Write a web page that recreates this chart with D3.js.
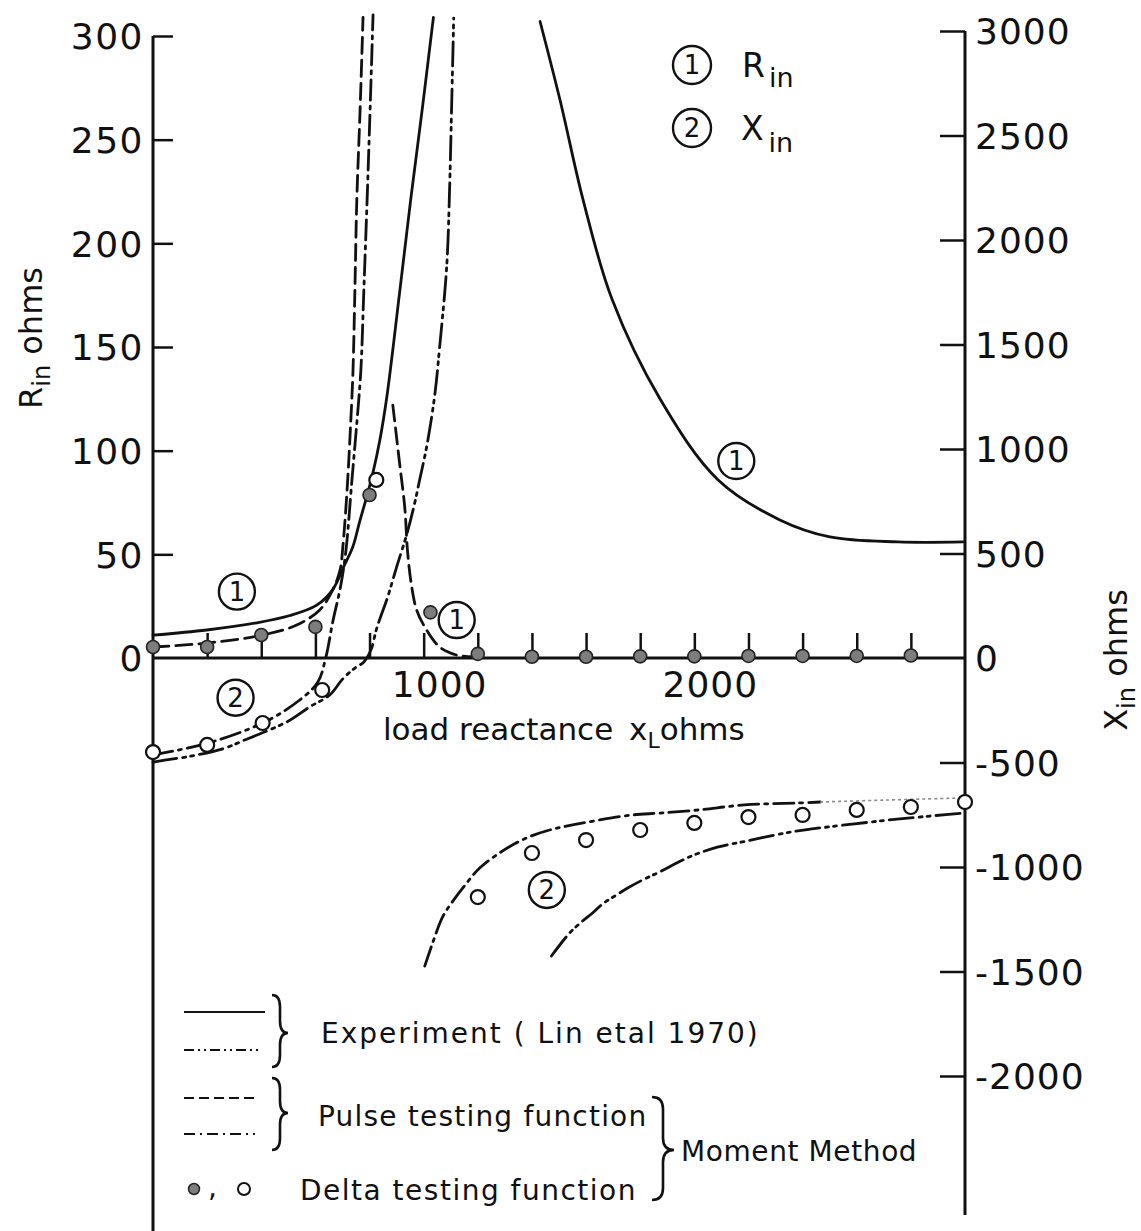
<!DOCTYPE html>
<html>
<head>
<meta charset="utf-8">
<title>Input impedance versus load reactance</title>
<script src="https://cdn.jsdelivr.net/npm/d3@7/dist/d3.min.js"></script>
<style>
  html, body { margin: 0; padding: 0; background: #fff; }
  svg { display: block; }
  text { font-family: "DejaVu Sans", Verdana, sans-serif; fill: #111; }
</style>
</head>
<body>
<svg id="chart" width="1141" height="1231"></svg>
<script>
// ---- load reactance x_L (ohms) against input resistance R_in and reactance X_in (ohms) ----

// Experiment (Lin et al 1970): R_in solid, X_in dash-dot-dot
const expRBelow = [[0,11],[199,13.5],[384,17],[506,20.5],[605,25.5],[664,33],[708,45],[738,53.5],[764,66],[790,78],[812,89],[838,105],[864,126],[910,175],[952,221],[995,265],[1036,309]];
const expRAbove = [[1430,307],[1504,269],[1589,221],[1696,173],[1873,125],[2087,86],[2316,66.6],[2501,58.4],[2752,56],[2992,56]];
const expXBelow = [[0,-498],[162,-464],[266,-431],[339,-392],[494,-306],[579,-234],[653,-177],[701,-100],[746,-48],[779,-19],[805,38],[827,144],[867,292],[900,435],[937,589],[967,742],[985,852],[1011,1010],[1041,1258],[1059,1488],[1085,1871],[1096,2254],[1103,2622],[1111,3062]];
const expXAbove = [[1472,-1426],[1539,-1316],[1583,-1263],[1624,-1220],[1661,-1177],[1712,-1134],[1760,-1096],[1815,-1058],[1871,-1024],[1985,-950],[2085,-905],[2185,-878],[2325,-840],[2410,-822],[2509,-806],[2664,-783],[2749,-771],[2889,-754],[2995,-742]];

// Moment method, pulse testing function: R_in dashed, X_in dash-dot
const pulseRBelow = [[0,5.3],[199,7.2],[406,11.1],[531,15.9],[616,23.2],[664,32.8],[691,42.4],[702,54.5],[717,81],[731,115],[739,139],[746,178],[753,221],[765,264],[776,309]];
const pulseRAbove = [[886,122],[911,94],[930,72.8],[941,50.6],[956,34.2],[974,23.2],[1004,15],[1059,5.3],[1122,1.4],[1181,0.5]];
const pulseXBelow = [[0,-464],[203,-407],[413,-306],[542,-201],[609,-115],[638,0],[664,172],[694,349],[713,517],[735,852],[754,1139],[768,1378],[779,1761],[791,2191],[802,2622],[813,3077]];
const pulseXAbove = [[1004,-1474],[1033,-1364],[1070,-1239],[1103,-1172],[1151,-1090],[1207,-1005],[1292,-923],[1380,-861],[1465,-823],[1550,-799],[1649,-775],[1771,-751],[1871,-742],[2015,-727],[2185,-703],[2380,-694],[2465,-689]];
const pulseXTail = [[2465,-689],[2700,-680],[2974,-670]];

// Moment method, delta testing function: R_in filled dots, X_in open dots
const deltaRLoad = [0,200,400,600,800,1025,1200,1400,1600,1800,2000,2200,2400,2600,2800];
const deltaR     = [5.3,5.3,11.1,15,78.6,22,2,0.6,0.6,0.8,0.8,1,1,1,1.2];
const deltaXLoad = [0,200,405,625,825,1200,1400,1600,1800,2000,2200,2400,2600,2800,3000];
const deltaX     = [-450,-416,-311,-153,852,-1144,-933,-871,-823,-789,-761,-751,-727,-713,-689];

// Axis ticks
const rTicks = [0,50,100,150,200,250,300];
const xInTicks = [3000,2500,2000,1500,1000,500,0,-500,-1000,-1500,-2000];
const loadTicks = [200,400,600,800,1000,1200,1400,1600,1800,2000,2200,2400,2600,2800];
const loadLabels = [1000,2000];

// ---- drawing ----
const W = 1141, H = 1231;
const ink = "#111";
const svg = d3.select("#chart");

const x  = d3.scaleLinear().domain([0, 3000]).range([153, 965]);
const yR = d3.scaleLinear().domain([0, 300]).range([658, 36]);
const yX = d3.scaleLinear().domain([-2000, 3000]).range([1076, 31]);

const DASH = {
  solid: null,
  dashDotDot: "24,6,3,5,3,6",
  dashed: "16,7",
  dashDot: "20,6,3,6"
};

// left axis (R_in)
const gL = svg.append("g")
  .attr("transform", `translate(${x(0)},0)`)
  .call(d3.axisLeft(yR).tickValues(rTicks).tickSizeInner(-20).tickSizeOuter(0).tickPadding(9));
gL.select(".domain").remove();
gL.selectAll(".tick line").attr("stroke", ink).attr("stroke-width", 2.5)
  .filter(d => d === 0).remove();
gL.selectAll(".tick text").attr("font-size", 36).attr("letter-spacing", 1.5)
  .attr("dy", "0.36em");
svg.append("line").attr("x1", x(0)).attr("x2", x(0)).attr("y1", yR(300)).attr("y2", H)
  .attr("stroke", ink).attr("stroke-width", 3);

// right axis (X_in)
const gRt = svg.append("g")
  .attr("transform", `translate(${x(3000)},0)`)
  .call(d3.axisRight(yX).tickValues(xInTicks).tickSizeInner(-25).tickSizeOuter(0).tickPadding(10)
    .tickFormat(d => d < 0 ? "-" + (-d) : String(d)));
gRt.select(".domain").remove();
gRt.selectAll(".tick line").attr("stroke", ink).attr("stroke-width", 2.5)
  .filter(d => d === 0).remove();
gRt.selectAll(".tick text").attr("font-size", 36).attr("letter-spacing", 1)
  .attr("dy", "0.36em");
svg.append("line").attr("x1", x(3000)).attr("x2", x(3000)).attr("y1", yX(3000)).attr("y2", 1215)
  .attr("stroke", ink).attr("stroke-width", 3);

// load-reactance axis along R_in = 0, ticks pointing up
const gB = svg.append("g")
  .attr("transform", `translate(0,${yR(0)})`)
  .call(d3.axisBottom(x).tickValues(loadTicks).tickSizeInner(-25).tickSizeOuter(0).tickFormat(""));
gB.select(".domain").remove();
gB.selectAll(".tick line").attr("stroke", ink).attr("stroke-width", 2.5);
svg.append("line").attr("x1", x(0)).attr("x2", x(3000)).attr("y1", yR(0)).attr("y2", yR(0))
  .attr("stroke", ink).attr("stroke-width", 3);
svg.selectAll("text.loadlab").data(loadLabels).join("text")
  .attr("class", "loadlab")
  .attr("x", d => x(d) + 16).attr("y", yR(0) + 39)
  .attr("text-anchor", "middle").attr("font-size", 36).attr("letter-spacing", 1)
  .text(d => d);

// axis titles
const tx = svg.append("text").attr("x", 383).attr("y", 740).attr("font-size", 31);
tx.append("tspan").text("load reactance ");
tx.append("tspan").attr("dx", 6).text("x");
tx.append("tspan").attr("font-size", 22).attr("dy", 8).text("L");
tx.append("tspan").attr("dy", -8).text("ohms");

const tl = svg.append("text").attr("transform", "translate(42,338) rotate(-90)")
  .attr("text-anchor", "middle").attr("font-size", 32);
tl.append("tspan").text("R");
tl.append("tspan").attr("font-size", 24).attr("dy", 8).text("in");
tl.append("tspan").attr("dy", -8).text(" ohms");

const tr = svg.append("text").attr("transform", "translate(1127,660) rotate(-90)")
  .attr("text-anchor", "middle").attr("font-size", 32);
tr.append("tspan").text("X");
tr.append("tspan").attr("font-size", 24).attr("dy", 8).text("in");
tr.append("tspan").attr("dy", -8).text(" ohms");

// curves
const lineOn = yScale => d3.line()
  .x(d => x(d[0])).y(d => yScale(d[1]))
  .curve(d3.curveCatmullRom.alpha(0.5));

const curves = [
  { data: expRBelow,   y: yR, dash: DASH.solid },
  { data: expRAbove,   y: yR, dash: DASH.solid },
  { data: expXBelow,   y: yX, dash: DASH.dashDotDot },
  { data: expXAbove,   y: yX, dash: DASH.dashDotDot },
  { data: pulseRBelow, y: yR, dash: DASH.dashed },
  { data: pulseRAbove, y: yR, dash: DASH.dashed },
  { data: pulseXBelow, y: yX, dash: DASH.dashDot },
  { data: pulseXAbove, y: yX, dash: DASH.dashDot }
];
svg.append("g").selectAll("path").data(curves).join("path")
  .attr("d", c => lineOn(c.y)(c.data))
  .attr("fill", "none").attr("stroke", ink).attr("stroke-width", 2.8)
  .attr("stroke-linecap", "round")
  .attr("stroke-dasharray", c => c.dash);
svg.append("path")
  .attr("d", lineOn(yX)(pulseXTail))
  .attr("fill", "none").attr("stroke", "#8a8a8a").attr("stroke-width", 1.6)
  .attr("stroke-dasharray", "3,3");

// delta-testing points
svg.append("g").selectAll("circle").data(deltaXLoad.map((l, i) => [l, deltaX[i]])).join("circle")
  .attr("cx", d => x(d[0])).attr("cy", d => yX(d[1])).attr("r", 7)
  .attr("fill", "#fff").attr("stroke", ink).attr("stroke-width", 2.2);
svg.append("g").selectAll("circle").data(deltaRLoad.map((l, i) => [l, deltaR[i]])).join("circle")
  .attr("cx", d => x(d[0])).attr("cy", d => yR(d[1])).attr("r", 6.5)
  .attr("fill", "#7d7d7d").attr("stroke", "#222").attr("stroke-width", 1.6);

// circled curve numbers
function circled(cx, cy, label, r = 18) {
  const g = svg.append("g").attr("transform", `translate(${cx},${cy})`);
  g.append("circle").attr("r", r).attr("fill", "none")
    .attr("stroke", ink).attr("stroke-width", 2.4);
  g.append("text").attr("text-anchor", "middle").attr("dy", "0.36em")
    .attr("font-size", 26).text(label);
}
circled(x(310), yR(32), "1");
circled(x(305), yX(-190), "2");
circled(x(1122), yR(18.3), "1");
circled(x(2155), yR(95), "1");
circled(x(1455), yX(-1110), "2");

// key for curve numbers
circled(692, 65, "1", 19);
circled(692, 128, "2", 19);
const kR = svg.append("text").attr("x", 742).attr("y", 77).attr("font-size", 33);
kR.append("tspan").text("R");
kR.append("tspan").attr("font-size", 27).attr("dx", 4).attr("dy", 10).text("in");
const kX = svg.append("text").attr("x", 741).attr("y", 140).attr("font-size", 33);
kX.append("tspan").text("X");
kX.append("tspan").attr("font-size", 27).attr("dx", 5).attr("dy", 12).text("in");

// legend for line styles
const legendLines = [
  { y: 1012, dash: DASH.solid, x2: 265 },
  { y: 1050, dash: "10,4,2,4,2,4", x2: 262 },
  { y: 1098, dash: "10,5", x2: 255 },
  { y: 1134, dash: "11,5,2,5", x2: 255 }
];
svg.append("g").selectAll("line").data(legendLines).join("line")
  .attr("x1", 184).attr("x2", d => d.x2).attr("y1", d => d.y).attr("y2", d => d.y)
  .attr("stroke", ink).attr("stroke-width", 2)
  .attr("stroke-dasharray", d => d.dash);

function brace(x0, y1, y2, w, ym) {
  const r = Math.min(12, (ym - y1) / 3), xm = x0 + w / 2;
  return `M${x0},${y1} Q${xm},${y1} ${xm},${y1 + r} L${xm},${ym - r} Q${xm},${ym} ${x0 + w},${ym}` +
         ` Q${xm},${ym} ${xm},${ym + r} L${xm},${y2 - r} Q${xm},${y2} ${x0},${y2}`;
}
const braces = [
  brace(272, 995, 1067, 16, 1033),
  brace(272, 1078, 1150, 16, 1113),
  brace(652, 1097, 1200, 22, 1150)
];
svg.append("g").selectAll("path").data(braces).join("path")
  .attr("d", d => d).attr("fill", "none").attr("stroke", ink).attr("stroke-width", 2.6);

const legendText = [
  { x: 321, y: 1043, t: "Experiment ( Lin etal 1970)", ls: 2 },
  { x: 318, y: 1126, t: "Pulse testing function", ls: 1.2 },
  { x: 300, y: 1200, t: "Delta testing function", ls: 1.5 },
  { x: 681, y: 1161, t: "Moment Method", ls: 0.6 }
];
svg.append("g").selectAll("text").data(legendText).join("text")
  .attr("x", d => d.x).attr("y", d => d.y).attr("font-size", 28)
  .attr("letter-spacing", d => d.ls).text(d => d.t);

svg.append("circle").attr("cx", 194).attr("cy", 1189).attr("r", 5.5)
  .attr("fill", "#7d7d7d").attr("stroke", "#222").attr("stroke-width", 1.5);
svg.append("text").attr("x", 208).attr("y", 1197).attr("font-size", 28).text(",");
svg.append("circle").attr("cx", 244).attr("cy", 1189).attr("r", 6)
  .attr("fill", "#fff").attr("stroke", ink).attr("stroke-width", 2);
</script>
</body>
</html>
